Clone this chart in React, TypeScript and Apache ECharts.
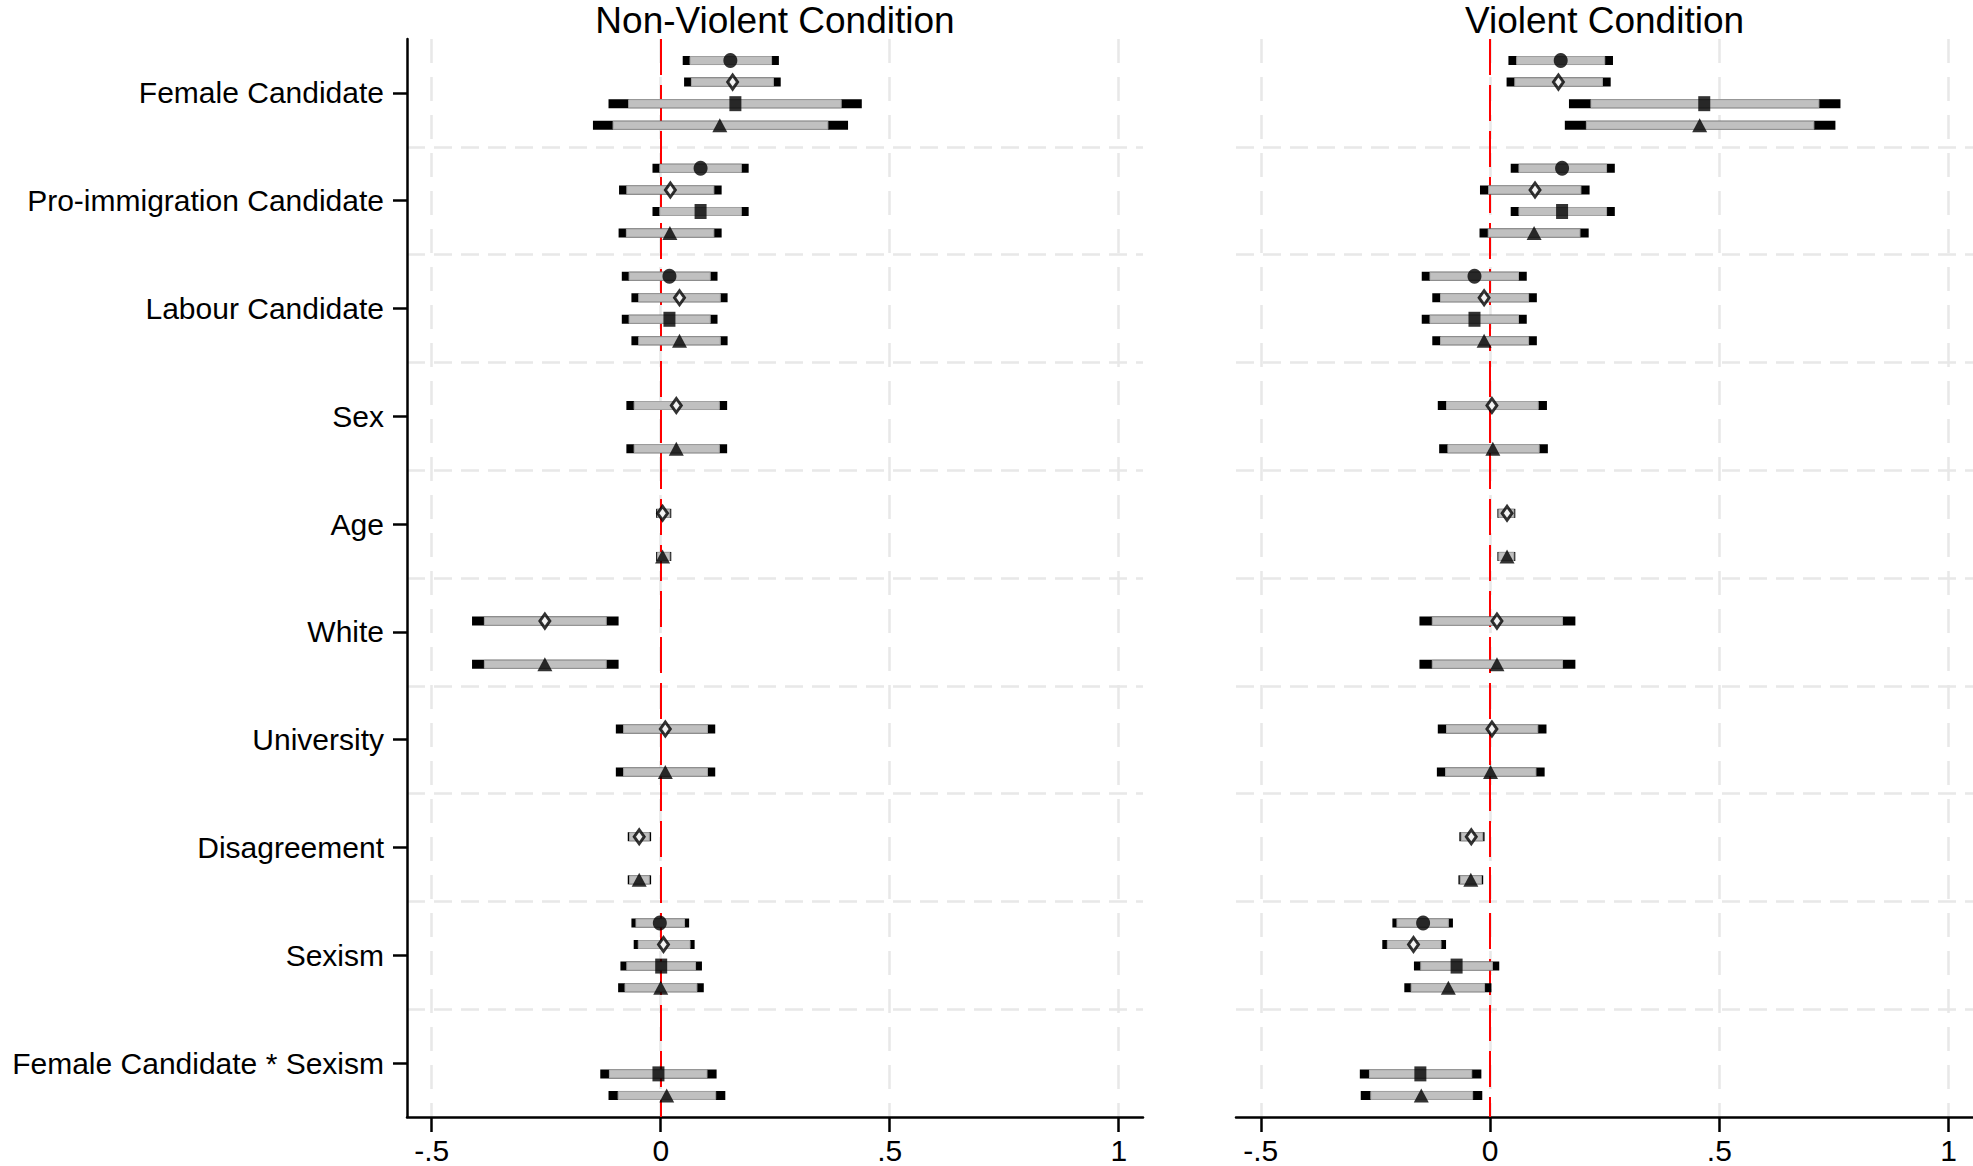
import React, { useEffect, useRef } from "react";
import * as echarts from "echarts";

// Categories (top to bottom)
const categories = [
  "Female Candidate",
  "Pro-immigration Candidate",
  "Labour Candidate",
  "Sex",
  "Age",
  "White",
  "University",
  "Disagreement",
  "Sexism",
  "Female Candidate * Sexism",
];

const panelTitles = ["Non-Violent Condition", "Violent Condition"];
const tickValues = [-0.5, 0, 0.5, 1];
const tickLabels = ["-.5", "0", ".5", "1"];

// Each entry: [estimate, lo95, hi95, lo90, hi90] or null (not in model)
type Est = [number, number, number, number, number] | null;

// Non-violent condition
const nvCircle: Est[] = [
  [0.152, 0.048, 0.258, 0.064, 0.242],
  [0.087, -0.018, 0.192, -0.002, 0.176],
  [0.019, -0.085, 0.124, -0.069, 0.108],
  null, null, null, null, null,
  [-0.002, -0.064, 0.062, -0.054, 0.052],
  null,
];
const nvDiamond: Est[] = [
  [0.157, 0.051, 0.262, 0.067, 0.246],
  [0.021, -0.091, 0.133, -0.074, 0.116],
  [0.041, -0.064, 0.146, -0.048, 0.13],
  [0.034, -0.075, 0.145, -0.058, 0.128],
  [0.004, -0.01, 0.023, -0.007, 0.02],
  [-0.253, -0.412, -0.092, -0.385, -0.119],
  [0.01, -0.098, 0.119, -0.081, 0.102],
  [-0.047, -0.072, -0.021, -0.068, -0.025],
  [0.006, -0.059, 0.074, -0.049, 0.064],
  null,
];
const nvSquare: Est[] = [
  [0.163, -0.114, 0.439, -0.07, 0.394],
  [0.087, -0.018, 0.192, -0.002, 0.176],
  [0.019, -0.085, 0.124, -0.069, 0.108],
  null, null, null, null, null,
  [0.001, -0.088, 0.09, -0.074, 0.076],
  [-0.005, -0.132, 0.122, -0.112, 0.101],
];
const nvTriangle: Est[] = [
  [0.129, -0.148, 0.409, -0.104, 0.365],
  [0.02, -0.092, 0.133, -0.075, 0.116],
  [0.041, -0.064, 0.146, -0.048, 0.13],
  [0.034, -0.075, 0.145, -0.058, 0.128],
  [0.004, -0.01, 0.023, -0.007, 0.02],
  [-0.253, -0.412, -0.092, -0.385, -0.119],
  [0.01, -0.098, 0.119, -0.081, 0.102],
  [-0.047, -0.072, -0.021, -0.068, -0.025],
  [0.0, -0.093, 0.094, -0.078, 0.079],
  [0.013, -0.114, 0.141, -0.093, 0.12],
];

// Violent condition
const vCircle: Est[] = [
  [0.154, 0.04, 0.268, 0.058, 0.25],
  [0.157, 0.045, 0.272, 0.063, 0.254],
  [-0.034, -0.149, 0.08, -0.131, 0.062],
  null, null, null, null, null,
  [-0.146, -0.213, -0.081, -0.203, -0.091],
  null,
];
const vDiamond: Est[] = [
  [0.149, 0.036, 0.263, 0.054, 0.245],
  [0.098, -0.022, 0.217, -0.003, 0.198],
  [-0.013, -0.126, 0.102, -0.108, 0.084],
  [0.004, -0.114, 0.124, -0.095, 0.105],
  [0.037, 0.016, 0.055, 0.019, 0.052],
  [0.015, -0.154, 0.186, -0.126, 0.158],
  [0.004, -0.114, 0.123, -0.095, 0.104],
  [-0.041, -0.067, -0.012, -0.063, -0.016],
  [-0.167, -0.235, -0.096, -0.224, -0.107],
  null,
];
const vSquare: Est[] = [
  [0.467, 0.172, 0.764, 0.22, 0.717],
  [0.157, 0.045, 0.272, 0.063, 0.254],
  [-0.034, -0.149, 0.08, -0.131, 0.062],
  null, null, null, null, null,
  [-0.073, -0.166, 0.02, -0.151, 0.005],
  [-0.152, -0.284, -0.019, -0.263, -0.04],
];
const vTriangle: Est[] = [
  [0.457, 0.163, 0.753, 0.21, 0.706],
  [0.096, -0.023, 0.215, -0.004, 0.196],
  [-0.013, -0.126, 0.102, -0.108, 0.084],
  [0.006, -0.111, 0.126, -0.092, 0.107],
  [0.037, 0.016, 0.055, 0.019, 0.052],
  [0.015, -0.154, 0.186, -0.126, 0.158],
  [0.001, -0.116, 0.119, -0.097, 0.1],
  [-0.042, -0.069, -0.015, -0.065, -0.019],
  [-0.091, -0.187, 0.003, -0.172, -0.012],
  [-0.15, -0.282, -0.017, -0.26, -0.038],
];

const panelModels = [
  [nvCircle, nvDiamond, nvSquare, nvTriangle],
  [vCircle, vDiamond, vSquare, vTriangle],
];

const FONT = '"Liberation Sans", Arial, Helvetica, sans-serif';
const GRID_TOP = 39;
const GRID_H = 1078;
const gridBoxes = [
  { left: 407, width: 736 },
  { left: 1236, width: 737 },
];
const X_MIN = -0.554;
const X_MAX = 1.053;
const SLOT = 0.2;

const markerStyles = [
  { symbol: "circle", symbolSize: [14, 15], itemStyle: { color: "#000" } },
  {
    symbol: "diamond",
    symbolSize: [10, 14],
    itemStyle: { color: "#fff", borderColor: "#000", borderWidth: 3 },
  },
  { symbol: "rect", symbolSize: [12, 15], itemStyle: { color: "#000" } },
  { symbol: "triangle", symbolSize: [15, 14], itemStyle: { color: "#000" } },
];

function tickLabelFor(v: number): string {
  const idx = tickValues.findIndex((t) => Math.abs(t - v) < 1e-9);
  return idx >= 0 ? tickLabels[idx] : "";
}

function buildOption() {
  const grid: any[] = [];
  const xAxis: any[] = [];
  const yAxis: any[] = [];
  const series: any[] = [];
  const graphic: any[] = [];

  const splitColors = categories.map((_, i) => (i === 0 ? "rgba(0,0,0,0)" : "#e8e8e8"));
  splitColors.push("rgba(0,0,0,0)");

  gridBoxes.forEach((g, p) => {
    grid.push({
      left: g.left,
      top: GRID_TOP,
      width: g.width,
      height: GRID_H,
      containLabel: false,
      outerBoundsMode: "none",
    });

    xAxis.push({
      type: "value",
      gridIndex: p,
      min: X_MIN,
      max: X_MAX,
      axisLine: { show: true, onZero: false, lineStyle: { color: "#000", width: 2.5 } },
      axisTick: {
        show: true,
        length: 15,
        customValues: tickValues,
        lineStyle: { color: "#000", width: 2.5 },
      },
      axisLabel: {
        customValues: tickValues,
        formatter: (v: number) => tickLabelFor(v),
        color: "#000",
        fontSize: 30,
        fontFamily: FONT,
        margin: 18,
      },
      splitLine: { show: true, lineStyle: { color: "#e8e8e8", width: 2.5, type: [24, 14] } },
    });

    // category axis (labels, ticks, horizontal separators)
    yAxis.push({
      type: "category",
      gridIndex: p,
      data: categories,
      inverse: true,
      boundaryGap: true,
      axisLine: { show: p === 0, onZero: false, lineStyle: { color: "#000", width: 2.5 } },
      axisTick: {
        show: p === 0,
        alignWithLabel: true,
        length: 14,
        interval: 0,
        lineStyle: { color: "#000", width: 2.5 },
      },
      axisLabel: {
        show: p === 0,
        interval: 0,
        color: "#000",
        fontSize: 30,
        fontFamily: FONT,
        margin: 23,
      },
      splitLine: {
        show: true,
        interval: 0,
        lineStyle: { color: splitColors, width: 2.5, type: [18, 9] },
      },
    });
    // hidden value axis for placing estimates
    yAxis.push({
      type: "value",
      gridIndex: p,
      min: -0.5,
      max: categories.length - 0.5,
      inverse: true,
      show: false,
    });

    const yIdx = p * 2 + 1;

    // red zero line
    series.push({
      type: "scatter",
      xAxisIndex: p,
      yAxisIndex: yIdx,
      data: [],
      z: 1,
      silent: true,
      markLine: {
        silent: true,
        symbol: ["none", "none"],
        z: 1,
        label: { show: false },
        lineStyle: { color: "#ff0000", width: 2, type: [36, 10] },
        data: [{ xAxis: 0 }],
      },
    });

    panelModels[p].forEach((model, m) => {
      const rows: number[][] = [];
      const pts: number[][] = [];
      model.forEach((e, c) => {
        if (!e) return;
        const y = c + (m - 1.5) * SLOT;
        rows.push([y, e[1], e[2], e[3], e[4]]);
        pts.push([e[0], y]);
      });

      series.push({
        type: "custom",
        xAxisIndex: p,
        yAxisIndex: yIdx,
        z: 3,
        silent: true,
        encode: { x: [1, 2, 3, 4], y: 0 },
        data: rows,
        renderItem: (params: any, api: any) => {
          const y = api.value(0);
          const a = api.coord([api.value(1), y]);
          const b = api.coord([api.value(2), y]);
          const c = api.coord([api.value(3), y]);
          const d = api.coord([api.value(4), y]);
          const h = 9;
          return {
            type: "group",
            children: [
              {
                type: "rect",
                shape: { x: a[0], y: a[1] - h / 2, width: b[0] - a[0], height: h },
                style: { fill: "#000" },
              },
              {
                type: "rect",
                shape: { x: c[0], y: c[1] - h / 2 + 0.5, width: d[0] - c[0], height: h - 1 },
                style: { fill: "#c0c0c0", stroke: "#a4a4a4", lineWidth: 1 },
              },
            ],
          };
        },
      });

      series.push({
        type: "scatter",
        xAxisIndex: p,
        yAxisIndex: yIdx,
        z: 4,
        silent: true,
        data: pts,
        symbol: markerStyles[m].symbol,
        symbolSize: markerStyles[m].symbolSize,
        itemStyle: markerStyles[m].itemStyle,
      });
    });

    graphic.push({
      type: "text",
      x: g.left + g.width / 2,
      y: 20,
      style: {
        text: panelTitles[p],
        font: `37px ${FONT}`,
        fill: "#000",
        textAlign: "center",
        textVerticalAlign: "middle",
      },
    });
  });

  return {
    animation: false,
    backgroundColor: "#fff",
    grid,
    xAxis,
    yAxis,
    series,
    graphic,
  };
}

export default function App() {
  const ref = useRef<HTMLDivElement>(null);
  useEffect(() => {
    if (!ref.current) return;
    const chart = echarts.init(ref.current, undefined, { renderer: "svg" });
    chart.setOption(buildOption() as any);
    return () => chart.dispose();
  }, []);
  return (
    <div
      ref={ref}
      style={{ position: "fixed", left: 0, top: 0, width: 1973, height: 1166, background: "#fff" }}
    />
  );
}
